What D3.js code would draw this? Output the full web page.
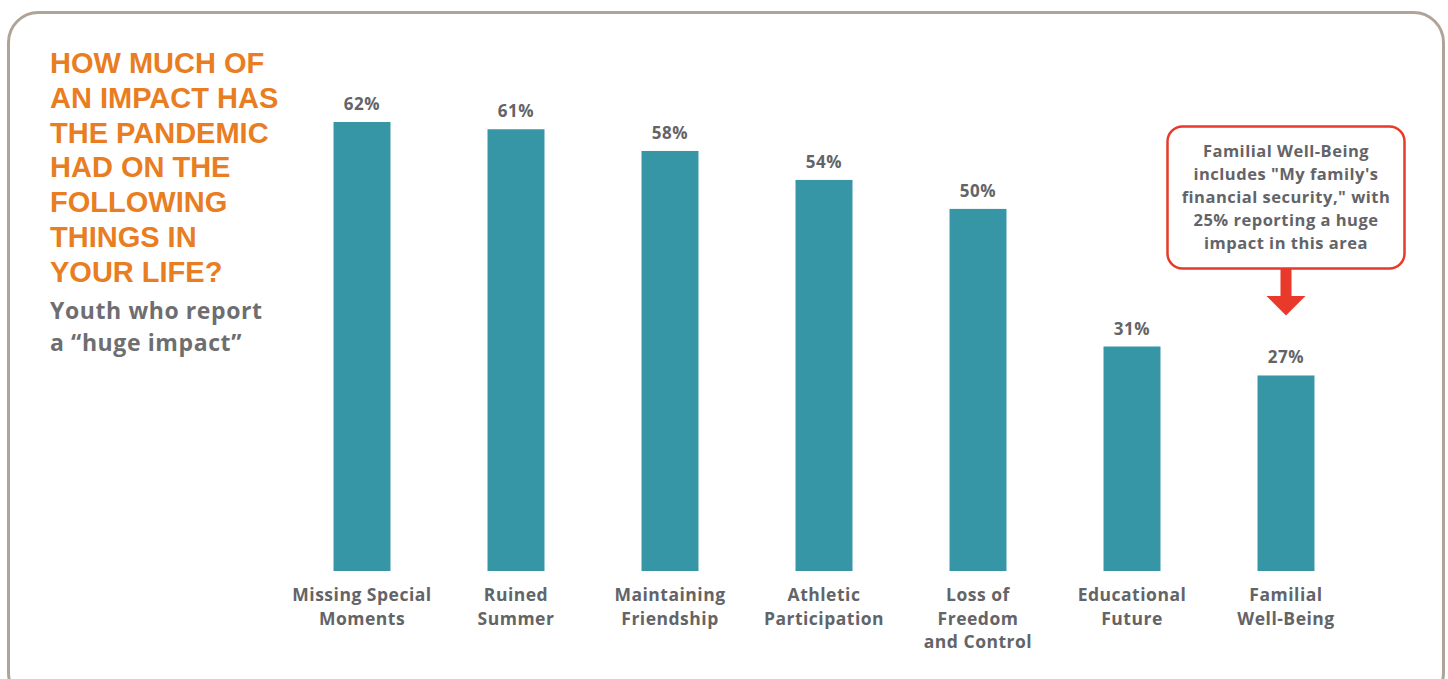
<!DOCTYPE html>
<html>
<head>
<meta charset="utf-8">
<script src="https://cdn.jsdelivr.net/npm/d3@7"></script>
<style>
  html, body { margin: 0; padding: 0; background: #ffffff; }
  svg { display: block; }
  text { font-family: "Open Sans", "Noto Sans", sans-serif; font-weight: 700; }
  text.title { font-family: "Liberation Sans", Arial, sans-serif; }
</style>
</head>
<body>
<svg id="chart" width="1448" height="679"></svg>
<script>
const categories = [
  ["Missing Special", "Moments"],
  ["Ruined", "Summer"],
  ["Maintaining", "Friendship"],
  ["Athletic", "Participation"],
  ["Loss of", "Freedom", "and Control"],
  ["Educational", "Future"],
  ["Familial", "Well-Being"]
];
const values = [62, 61, 58, 54, 50, 31, 27];
const valueLabels = ["62%", "61%", "58%", "54%", "50%", "31%", "27%"];
const titleLines = ["HOW MUCH OF", "AN IMPACT HAS", "THE PANDEMIC", "HAD ON THE", "FOLLOWING", "THINGS IN", "YOUR LIFE?"];
const subtitleLines = ["Youth who report", "a \u201chuge impact\u201d"];
const calloutLines = ["Familial Well-Being", "includes \"My family's", "financial security,\" with", "25% reporting a huge", "impact in this area"];
const calloutIndex = 6;

const svg = d3.select("#chart");
const barColor = "#3796a5";
const textGray = "#636467";
const orange = "#e87d22";
const red = "#e8392a";

// frame
svg.append("rect")
  .attr("x", 8.5).attr("y", 12.5).attr("width", 1435).attr("height", 690)
  .attr("rx", 30).attr("ry", 30)
  .attr("fill", "#fff").attr("stroke", "#b0a397").attr("stroke-width", 3);

// title
svg.append("g").selectAll("text").data(titleLines).join("text")
  .attr("class", "title")
  .attr("x", 50).attr("y", (d, i) => 73 + i * 34.8)
  .attr("fill", orange).attr("font-size", 29)
  .text(d => d);

svg.append("g").selectAll("text").data(subtitleLines).join("text")
  .attr("x", 50).attr("y", (d, i) => 319 + i * 32)
  .attr("fill", "#6d6e71").attr("font-size", 23)
  .attr("letter-spacing", 0.6)
  .text(d => d);

const x = d3.scaleBand()
  .domain(d3.range(categories.length))
  .range([285, 1363])
  .paddingInner(0.63)
  .paddingOuter(0.315);

const y = d3.scaleLinear().domain([0, 62]).range([571, 122]);

const g = svg.append("g");
g.selectAll("rect.bar").data(values).join("rect")
  .attr("class", "bar")
  .attr("x", (d, i) => x(i))
  .attr("width", x.bandwidth())
  .attr("y", d => y(d))
  .attr("height", d => y(0) - y(d))
  .attr("fill", barColor);

g.selectAll("text.val").data(values).join("text")
  .attr("class", "val")
  .attr("x", (d, i) => x(i) + x.bandwidth() / 2)
  .attr("y", d => y(d) - 12)
  .attr("text-anchor", "middle")
  .attr("fill", textGray).attr("font-size", 17)
  .attr("letter-spacing", 0.6)
  .text((d, i) => valueLabels[i]);

const cat = g.selectAll("text.cat").data(categories).join("text")
  .attr("class", "cat")
  .attr("text-anchor", "middle")
  .attr("fill", textGray).attr("font-size", 17.5)
  .attr("letter-spacing", 0.5);
cat.each(function(lines, i) {
  d3.select(this).selectAll("tspan").data(lines).join("tspan")
    .attr("x", x(i) + x.bandwidth() / 2)
    .attr("y", (d, j) => 601 + j * 23.5)
    .text(d => d);
});

// callout
const cx = x(calloutIndex) + x.bandwidth() / 2;
svg.append("rect")
  .attr("x", 1167.5).attr("y", 126.5).attr("width", 237).attr("height", 142)
  .attr("rx", 15).attr("ry", 15)
  .attr("fill", "#fff").attr("stroke", red).attr("stroke-width", 2.5);
svg.append("g").selectAll("text").data(calloutLines).join("text")
  .attr("x", 1286).attr("y", (d, i) => 157 + i * 23)
  .attr("text-anchor", "middle")
  .attr("fill", textGray).attr("font-size", 16.5)
  .attr("letter-spacing", 0.5)
  .text(d => d);

const arrowTop = 268, headTop = 296, tip = y(values[calloutIndex]) - 60;
svg.append("path")
  .attr("d", `M${cx - 5.5},${arrowTop} L${cx + 5.5},${arrowTop} L${cx + 5.5},${headTop} L${cx + 19.5},${headTop} L${cx},${tip} L${cx - 19.5},${headTop} L${cx - 5.5},${headTop} Z`)
  .attr("fill", red);
</script>
</body>
</html>
